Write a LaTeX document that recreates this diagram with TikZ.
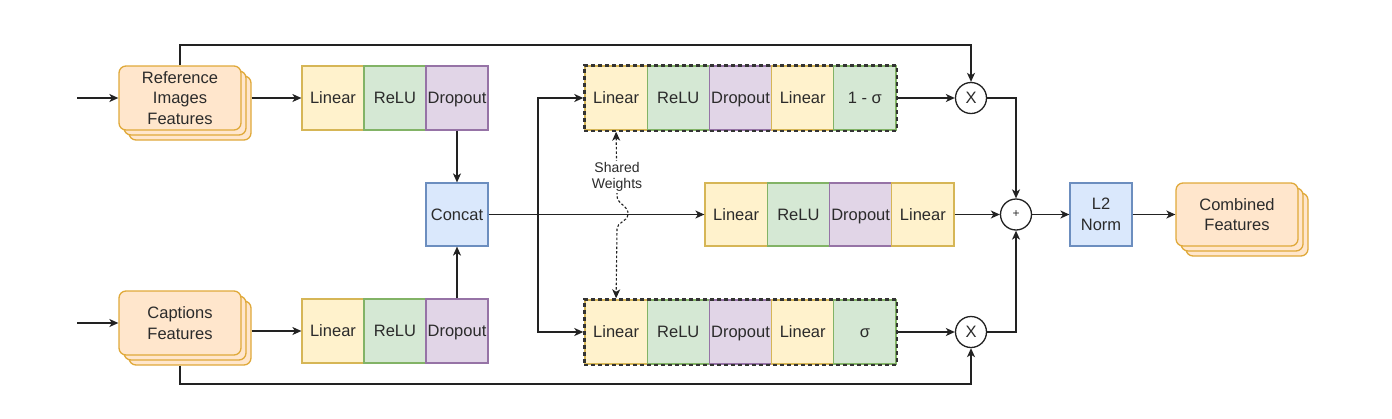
\documentclass[tikz,border=0pt]{standalone}
\usepackage{fontspec}
\setmainfont{Liberation Sans}
\usetikzlibrary{arrows.meta,fit,positioning}
\definecolor{linF}{HTML}{FFF2CC}\definecolor{linD}{HTML}{D6B656}
\definecolor{relF}{HTML}{D5E8D4}\definecolor{relD}{HTML}{82B366}
\definecolor{drpF}{HTML}{E1D5E7}\definecolor{drpD}{HTML}{9673A6}
\definecolor{bluF}{HTML}{DAE8FC}\definecolor{bluD}{HTML}{6C8EBF}
\definecolor{orgF}{HTML}{FFE6CC}\definecolor{orgD}{HTML}{E0A93A}
\definecolor{txt}{HTML}{2B2B2B}
\definecolor{ln}{HTML}{222222}
\begin{document}
\begin{tikzpicture}[x=1pt,y=-1pt,
  every node/.style={font=\fontsize{16.5}{20.5}\selectfont, text=txt},
  cell/.style={draw, line width=1.2pt, minimum width=62pt, minimum height=64pt, inner sep=0pt, align=center},
  onel/.style={text height=12pt, text depth=0.3pt},
  lin/.style={cell, onel, fill=linF, draw=linD},
  rel/.style={cell, onel, fill=relF, draw=relD},
  drp/.style={cell, onel, fill=drpF, draw=drpD},
  blu/.style={cell, fill=bluF, draw=bluD},
  stackbox/.style={draw=orgD, fill=orgF, line width=1.3pt, rounded corners=7pt, minimum width=122pt, minimum height=64pt, inner sep=0pt, align=center},
  group/.style={draw=black!80, dash pattern=on 4pt off 3pt, line width=2.2pt, inner sep=0pt},
  opnode/.style={circle, draw=ln, fill=white, line width=1.3pt, minimum size=31pt, inner sep=0pt},
  tip/.tip={Stealth[length=9pt, width=8pt, inset=2.5pt]},
  arr/.style={draw=ln, line width=1.4pt, -tip},
  shared/.style={draw=ln, line width=1.1pt, dash pattern=on 2.5pt off 2pt, tip-tip}
]
\useasboundingbox (0,0) rectangle (1392,418);

% input stacks
\node[stackbox] (ref3) at (190,108) {};
\node[stackbox] (ref2) at (185,103) {};
\node[stackbox] (ref) at (180,98) {Reference\\Images\\Features};
\node[stackbox] (cap3) at (190,333) {};
\node[stackbox] (cap2) at (185,328) {};
\node[stackbox] (cap) at (180,323) {Captions\\Features};
\coordinate (inA) at (77,98);
\coordinate (inB) at (77,323);

% left rows
\node[lin] (la1) at (333,98) {Linear};
\node[rel] (la2) at (395,98) {ReLU};
\node[drp] (la3) at (457,98) {Dropout};
\node[lin] (lb1) at (333,331) {Linear};
\node[rel] (lb2) at (395,331) {ReLU};
\node[drp] (lb3) at (457,331) {Dropout};
\node[blu, onel, minimum height=63pt] (concat) at (457,214.5) {Concat};

% top gated group
\node[lin, minimum width=62.2pt] (t1) at (616.1,98) {Linear};
\node[rel, minimum width=62.2pt] (t2) at (678.3,98) {ReLU};
\node[drp, minimum width=62.2pt] (t3) at (740.5,98) {Dropout};
\node[lin, minimum width=62.2pt] (t4) at (802.7,98) {Linear};
\node[rel, minimum width=62.2pt] (t5) at (864.9,98) {1 - σ};
\node[group, fit=(t1)(t5)] (tg) {};

% bottom gated group
\node[lin, minimum width=62.2pt] (b1) at (616.1,332) {Linear};
\node[rel, minimum width=62.2pt] (b2) at (678.3,332) {ReLU};
\node[drp, minimum width=62.2pt] (b3) at (740.5,332) {Dropout};
\node[lin, minimum width=62.2pt] (b4) at (802.7,332) {Linear};
\node[rel, minimum width=62.2pt] (b5) at (864.9,332) {σ};
\node[group, fit=(b1)(b5)] (bg) {};

% middle row
\node[lin, minimum width=62.25pt, minimum height=63pt] (m1) at (736.1,214.5) {Linear};
\node[rel, minimum width=62.25pt, minimum height=63pt] (m2) at (798.4,214.5) {ReLU};
\node[drp, minimum width=62.25pt, minimum height=63pt] (m3) at (860.6,214.5) {Dropout};
\node[lin, minimum width=62.25pt, minimum height=63pt] (m4) at (922.9,214.5) {Linear};

% operators
\node[opnode] (xt) at (971,98) {X};
\node[opnode] (xb) at (971,332) {X};
\node[opnode, font=\fontsize{12}{12}\selectfont] (plus) at (1016,214.5) {+};

% output
\node[blu, minimum height=63pt] (l2) at (1101,214.5) {L2\\Norm};
\node[stackbox, minimum height=63pt] (comb3) at (1247,224.5) {};
\node[stackbox, minimum height=63pt] (comb2) at (1242,219.5) {};
\node[stackbox, minimum height=63pt] (comb) at (1237,214.5) {Combined\\Features};

% connectors
\draw[arr] (inA) -- (ref.west);
\draw[arr] (inB) -- (cap.west);
\draw[arr] (ref3.east |- la1.west) -- (la1.west);
\draw[arr] (cap3.east |- lb1.west) -- (lb1.west);
\draw[arr] (la3.south) -- (concat.north);
\draw[arr] (lb3.north) -- (concat.south);
\coordinate (split) at (538,214.5);
\draw[arr] (concat.east) -- (m1.west);
\draw[arr] (split) |- (tg.west);
\draw[arr] (split) |- (bg.west);
\coordinate (topY) at (180,45);
\coordinate (botY) at (180,384);
\draw[arr] (ref.north) -- (topY) -| (xt.north);
\draw[arr] (cap.south |- cap3.south) -- (botY) -| (xb.south);
\draw[arr] (tg.east) -- (xt.west);
\draw[arr] (bg.east) -- (xb.west);
\draw[arr] (xt.east) -| (plus.north);
\draw[arr] (xb.east) -| (plus.south);
\draw[arr] (m4.east) -- (plus.west);
\draw[arr] (plus.east) -- (l2.west);
\draw[arr] (l2.east) -- (comb.west);

% shared weights
\coordinate (swA) at (617,196);
\coordinate (swB) at (617,229);
\draw[shared] (tg.south -| t1.south) -- (swA) .. controls (617,204) and (629,206) .. (628,214.5) .. controls (627,222) and (617,222) .. (swB) -- (bg.north -| b1.north);
\node[fill=white, inner sep=1pt, align=center, font=\fontsize{14}{16.5}\selectfont] (swl) at (617,177) {Shared\\Weights};
\end{tikzpicture}
\end{document}
